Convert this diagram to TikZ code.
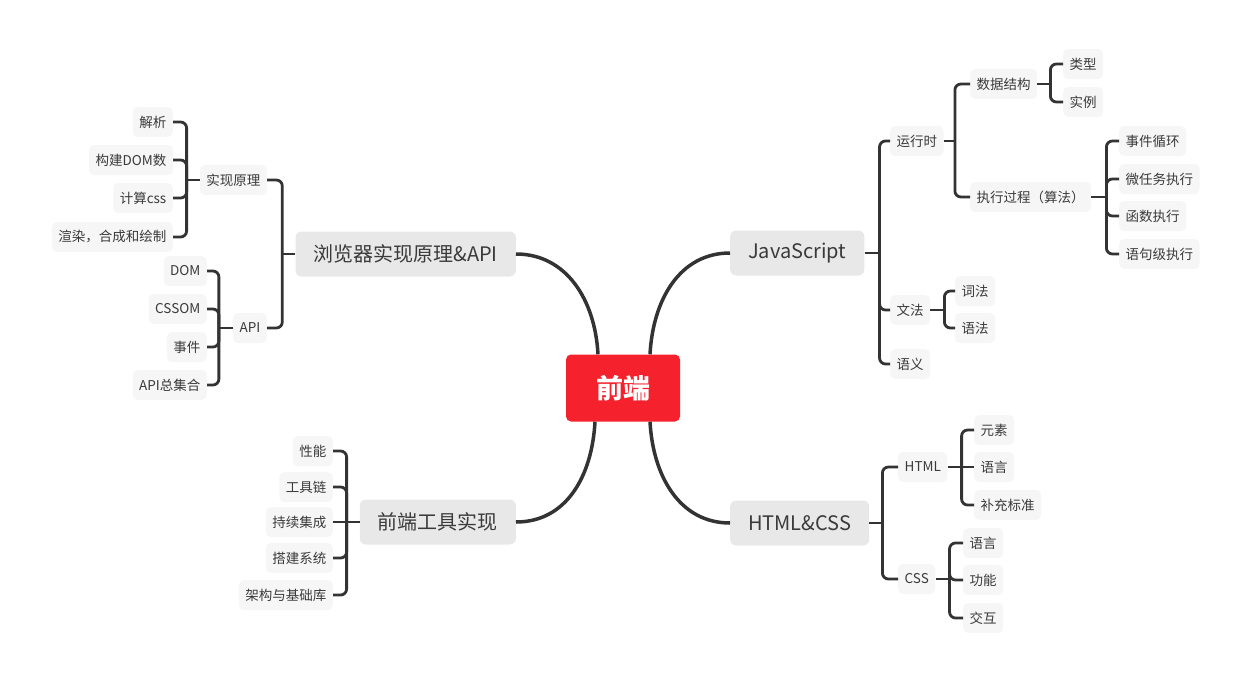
\documentclass[tikz,border=0pt]{standalone}
\usepackage{fontspec}
\setmainfont{Noto Sans CJK SC}
\usepackage{xcolor}
\usepackage{tikz}
\usetikzlibrary{calc}
\definecolor{fdred}{HTML}{F5222D}
\definecolor{fdgray}{HTML}{E8E8E8}
\definecolor{fdleaf}{HTML}{F6F6F6}
\definecolor{fdline}{HTML}{333333}
\definecolor{fdtext}{HTML}{3A3A3A}
\tikzset{
  root/.style={fill=fdred, rounded corners=5pt, minimum width=114pt, minimum height=67pt,
               text=white, font=\fontsize{27}{27}\selectfont\bfseries},
  topic/.style={fill=fdgray, rounded corners=6pt, minimum height=45pt, inner xsep=18pt,
                text=fdtext, font=\fontsize{20}{20}\selectfont},
  leaf/.style={fill=fdleaf, rounded corners=5pt, minimum height=30pt, inner xsep=6.5pt,
               text=fdtext, font=\fontsize{13.5}{13.5}\selectfont},
  link/.style={draw=fdline, line width=3.5pt},
  branch/.style={draw=fdline, line width=2.8pt, rounded corners=6pt}
}

\begin{document}
\begin{tikzpicture}[x=1pt, y=-1pt]
    \useasboundingbox (0,0) rectangle (1251,683);

    \node[root] (qd) at (623,388) {前端};

    % main topics
    \node[topic, anchor=east] (llq) at (516,254) {浏览器实现原理\&API};
    \node[topic, anchor=east] (gjsx) at (516,522) {前端工具实现};
    \node[topic, anchor=west] (js) at (730,253) {JavaScript};
    \node[topic, anchor=west] (hc) at (730,523) {HTML\&CSS};

    \draw[link] (llq.east) .. controls +(50,0) and +(-3,-55) .. ([xshift=-25pt]qd.north);
    \draw[link] (gjsx.east) .. controls +(50,0) and +(-3,55) .. ([xshift=-28pt]qd.south);
    \draw[link] (js.west) .. controls +(-50,0) and +(3,-55) .. ([xshift=27pt]qd.north);
    \draw[link] (hc.west) .. controls +(-50,0) and +(3,55) .. ([xshift=27pt]qd.south);

    % browser
    \node[leaf, anchor=east] (sxyl) at (267,180) {实现原理};
    \node[leaf, anchor=east] (api) at (267,328) {API};
    \draw[branch] (llq.west) -- ++(-13,0) coordinate (jllq);
    \draw[branch] (jllq) |- (sxyl.east);
    \draw[branch] (jllq) |- (api.east);

    \node[leaf, anchor=east] (jx) at (173,122) {解析};
    \node[leaf, anchor=east] (gjdom) at (173,160) {构建DOM数};
    \node[leaf, anchor=east] (jscss) at (173,198) {计算css};
    \node[leaf, anchor=east] (xr) at (173,237) {渲染，合成和绘制};
    \draw[branch] (sxyl.west) -- ++(-13,0) coordinate (jsxyl);
    \draw[branch] (jsxyl) |- (jx.east);
    \draw[branch] (jsxyl) |- (gjdom.east);
    \draw[branch] (jsxyl) |- (jscss.east);
    \draw[branch] (jsxyl) |- (xr.east);

    \node[leaf, anchor=east] (dom) at (207,271) {DOM};
    \node[leaf, anchor=east] (cssom) at (207,309) {CSSOM};
    \node[leaf, anchor=east] (sj) at (207,347) {事件};
    \node[leaf, anchor=east] (apizjh) at (207,385) {API总集合};
    \draw[branch] (api.west) -- ++(-14,0) coordinate (japi);
    \draw[branch] (japi) |- (dom.east);
    \draw[branch] (japi) |- (cssom.east);
    \draw[branch] (japi) |- (sj.east);
    \draw[branch] (japi) |- (apizjh.east);

    % tools
    \node[leaf, anchor=east] (xn) at (333,451) {性能};
    \node[leaf, anchor=east] (gjl) at (333,487) {工具链};
    \node[leaf, anchor=east] (cxjc) at (333,522) {持续集成};
    \node[leaf, anchor=east] (djxt) at (333,558) {搭建系统};
    \node[leaf, anchor=east] (jgk) at (333,595) {架构与基础库};
    \draw[branch] (gjsx.west) -- ++(-13,0) coordinate (jgjsx);
    \draw[branch] (jgjsx) |- (xn.east);
    \draw[branch] (jgjsx) |- (gjl.east);
    \draw[branch] (jgjsx) -- (cxjc.east);
    \draw[branch] (jgjsx) |- (djxt.east);
    \draw[branch] (jgjsx) |- (jgk.east);

    % javascript
    \node[leaf, anchor=west] (yxs) at (890,141) {运行时};
    \node[leaf, anchor=west] (wf) at (890,310) {文法};
    \node[leaf, anchor=west] (yy) at (890,364) {语义};
    \draw[branch] (js.east) -- ++(15,0) coordinate (jjs);
    \draw[branch] (jjs) |- (yxs.west);
    \draw[branch] (jjs) |- (wf.west);
    \draw[branch] (jjs) |- (yy.west);

    \node[leaf, anchor=west] (sjjg) at (970,84) {数据结构};
    \node[leaf, anchor=west] (zxgc) at (970,197) {执行过程（算法）};
    \draw[branch] (yxs.east) -- ++(11,0) coordinate (jyxs);
    \draw[branch] (jyxs) |- (sjjg.west);
    \draw[branch] (jyxs) |- (zxgc.west);

    \node[leaf, anchor=west] (lx) at (1063,64) {类型};
    \node[leaf, anchor=west] (sl) at (1063,102) {实例};
    \draw[branch] (sjjg.east) -- ++(13,0) coordinate (jsjjg);
    \draw[branch] (jsjjg) |- (lx.west);
    \draw[branch] (jsjjg) |- (sl.west);

    \node[leaf, anchor=west] (sjxh) at (1119,141) {事件循环};
    \node[leaf, anchor=west] (wrw) at (1119,179) {微任务执行};
    \node[leaf, anchor=west] (hszx) at (1119,216) {函数执行};
    \node[leaf, anchor=west] (yjj) at (1119,254) {语句级执行};
    \draw[branch] (zxgc.east) -- ++(15,0) coordinate (jzxgc);
    \draw[branch] (jzxgc) |- (sjxh.west);
    \draw[branch] (jzxgc) |- (wrw.west);
    \draw[branch] (jzxgc) |- (hszx.west);
    \draw[branch] (jzxgc) |- (yjj.west);

    \node[leaf, anchor=west] (cf) at (955,291) {词法};
    \node[leaf, anchor=west] (yf) at (955,328) {语法};
    \draw[branch] (wf.east) -- ++(14,0) coordinate (jwf);
    \draw[branch] (jwf) |- (cf.west);
    \draw[branch] (jwf) |- (yf.west);

    % html & css
    \node[leaf, anchor=west] (html) at (898,467) {HTML};
    \node[leaf, anchor=west] (css) at (898,579) {CSS};
    \draw[branch] (hc.east) -- ++(13,0) coordinate (jhc);
    \draw[branch] (jhc) |- (html.west);
    \draw[branch] (jhc) |- (css.west);

    \node[leaf, anchor=west] (ys) at (974,430) {元素};
    \node[leaf, anchor=west] (hyy) at (974,467) {语言};
    \node[leaf, anchor=west] (bcbz) at (974,505) {补充标准};
    \draw[branch] (html.east) -- ++(14,0) coordinate (jhtml);
    \draw[branch] (jhtml) |- (ys.west);
    \draw[branch] (jhtml) -- (hyy.west);
    \draw[branch] (jhtml) |- (bcbz.west);

    \node[leaf, anchor=west] (cyy) at (963,543) {语言};
    \node[leaf, anchor=west] (gn) at (963,580) {功能};
    \node[leaf, anchor=west] (jh) at (963,618) {交互};
    \draw[branch] (css.east) -- ++(14,0) coordinate (jcss);
    \draw[branch] (jcss) |- (cyy.west);
    \draw[branch] (jcss) |- (gn.west);
    \draw[branch] (jcss) |- (jh.west);
\end{tikzpicture}
\end{document}
